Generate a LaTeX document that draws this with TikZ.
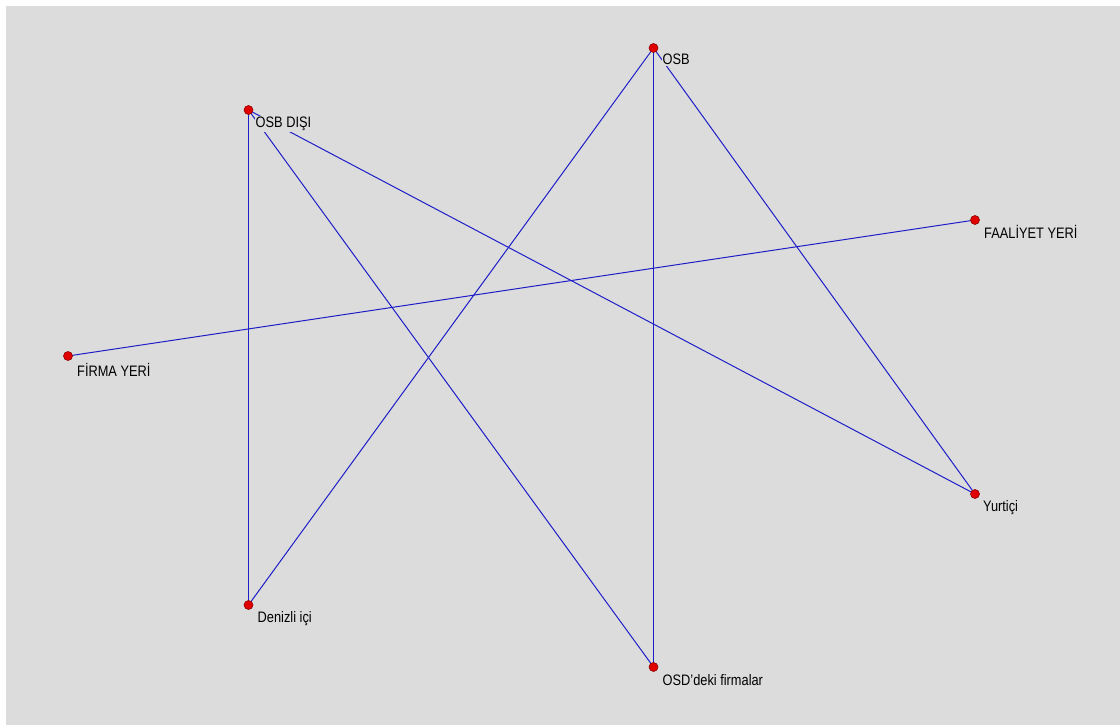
\documentclass[tikz,border=0pt]{standalone}
\usepackage{fontspec}
\setmainfont{Liberation Sans}
\definecolor{bg}{RGB}{220,220,220}
\definecolor{edgeblue}{RGB}{30,30,200}
\definecolor{dotred}{RGB}{225,0,0}
\definecolor{dotdark}{RGB}{140,0,0}
\newcommand{\tallt}[1]{\scalebox{0.97}[1.15]{#1}}
\tikzset{
  vert/.style={circle, fill=dotred, draw=dotdark, line width=0.6pt, minimum size=9pt, inner sep=0pt},
  lbl/.style={anchor=base west, fill=bg, inner sep=1pt, font=\fontsize{13.2}{15}\selectfont, text=black},
  edge/.style={draw=edgeblue, line width=1pt},
}
\begin{document}
\begin{tikzpicture}[x=1pt, y=-1pt]
\useasboundingbox (0,0) rectangle (1120,725);
\fill[white] (0,0) rectangle (1120,725);
\fill[bg] (6,6) rectangle (1120,725);
% vertex positions
\coordinate (pOSBD) at (248.5,110);
\coordinate (pOSB) at (653.5,48);
\coordinate (pFAAL) at (975,220);
\coordinate (pFIRMA) at (68,356);
\coordinate (pYURT) at (975,494);
\coordinate (pDEN) at (248.5,605);
\coordinate (pOSD) at (653.5,667);
% edges
\draw[edge] (pOSBD) -- (pDEN);
\draw[edge] (pOSBD) -- (pOSD);
\draw[edge] (pOSBD) -- (pYURT);
\draw[edge] (pOSB) -- (pDEN);
\draw[edge] (pOSB) -- (pOSD);
\draw[edge] (pOSB) -- (pYURT);
\draw[edge] (pFIRMA) -- (pFAAL);
% labels
\node[lbl] (lOSBD) at ([shift={(6,18)}]pOSBD) {\tallt{OSB DIŞI}};
\node[lbl] (lOSB) at ([shift={(8,17)}]pOSB) {\tallt{OSB}};
\node[lbl] (lFAAL) at ([shift={(8,18)}]pFAAL) {\tallt{FAALİYET YERİ}};
\node[lbl] (lFIRMA) at ([shift={(8,20)}]pFIRMA) {\tallt{FİRMA YERİ}};
\node[lbl] (lYURT) at ([shift={(7,17)}]pYURT) {\tallt{Yurtiçi}};
\node[lbl] (lDEN) at ([shift={(8,17)}]pDEN) {\tallt{Denizli içi}};
\node[lbl] (lOSD) at ([shift={(8,18)}]pOSD) {\tallt{OSD'deki firmalar}};
% dots
\node[vert] (OSBD) at (pOSBD) {};
\node[vert] (OSB) at (pOSB) {};
\node[vert] (FAAL) at (pFAAL) {};
\node[vert] (FIRMA) at (pFIRMA) {};
\node[vert] (YURT) at (pYURT) {};
\node[vert] (DEN) at (pDEN) {};
\node[vert] (OSD) at (pOSD) {};
\end{tikzpicture}
\end{document}
